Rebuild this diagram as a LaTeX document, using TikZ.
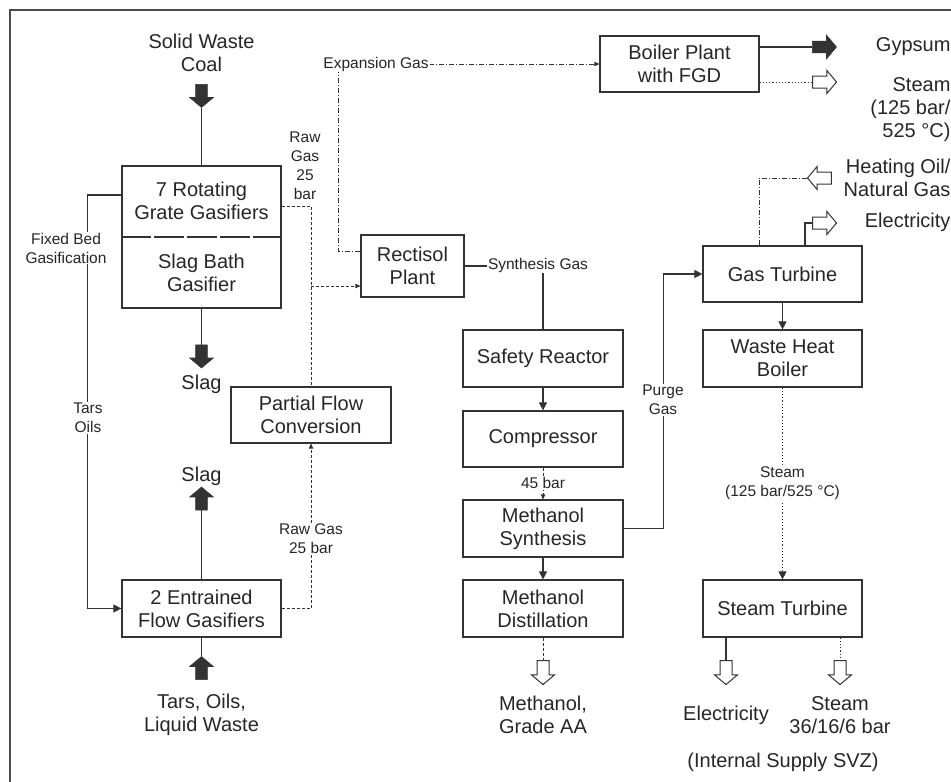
\documentclass[tikz,border=0pt]{standalone}
\usepackage{fontspec}
\setmainfont{Liberation Sans}
\usetikzlibrary{arrows.meta,shapes.arrows}

\begin{document}
\begin{tikzpicture}[x=1pt, y=-1pt, line width=1.1pt, color=black!80,
  every node/.style={font=\fontsize{20}{23}\selectfont, align=center, text=black!85},
  box/.style={draw, line width=1.2pt, minimum width=159pt, minimum height=57pt, inner sep=0pt},
  lbl/.style={font=\fontsize{15.5}{19}\selectfont, fill=white, inner sep=1pt},
  blkarrow/.style={single arrow, fill=black!80, draw=black!80, line width=0.6pt, minimum height=23pt,
    inner xsep=0pt, inner ysep=5.5pt, single arrow head extend=6pt, single arrow tip angle=100},
  openarrow/.style={single arrow, fill=white, draw=black!80, line width=1pt, minimum height=24pt,
    inner xsep=0pt, inner ysep=5.5pt, single arrow head extend=5.5pt, single arrow tip angle=100},
  arr/.style={-{Triangle[length=8pt,width=8pt]}},
  smalltip/.style={-{Triangle[length=5pt,width=4.5pt]}},
  rawgas/.style={line width=0.9pt, dash pattern=on 3pt off 2pt},
  expgas/.style={line width=0.9pt, dash pattern=on 5pt off 2pt on 1pt off 2pt},
  steamln/.style={line width=0.9pt, dash pattern=on 1.2pt off 2pt}]
  \useasboundingbox (0,0) rectangle (951,782);
  \draw[line width=1.5pt, black!70] (10,782) -- (10,10) -- (951,10);

  % gasification
  \node[box, minimum height=142pt] (gasif) at (201.5,237) {};
  \node (rotgrate) at (201.5,200.5) {7 Rotating\\Grate Gasifiers};
  \node (slagbath) at (201.5,272.5) {Slag Bath\\Gasifier};
  \draw[dash pattern=on 30pt off 3pt] (gasif.west) -- (gasif.east);
  \node (coal) at (201.5,53) {Solid Waste\\Coal};
  \node[blkarrow, rotate=-90] (coalin) at (201.5,93.5) {};
  \draw (coalin.tip) -- (gasif.north);
  \node[blkarrow, rotate=-90] (slagout1) at (201.5,354) {};
  \draw (gasif.south) -- (slagout1.tail);
  \node (slag1) at (201.5,384) {Slag};

  \node[box] (entrained) at (201.5,608.5) {2 Entrained\\Flow Gasifiers};
  \node[blkarrow, rotate=90] (slagout2) at (201.5,501) {};
  \draw (entrained.north) -- (slagout2.tail);
  \node (slag2) at (201.5,476) {Slag};
  \node[blkarrow, rotate=90] (tarsin) at (201.5,670.5) {};
  \draw (tarsin.tip) -- (entrained.south);
  \node (tars) at (201.5,715) {Tars, Oils,\\Liquid Waste};

  \draw[arr] ([yshift=42pt]gasif.west) -- ++(-34,0) |- (entrained.west);
  \node[lbl] (fixedbed) at (66,248) {Fixed Bed\\Gasification};
  \node[lbl] (tarsoils) at (88,418) {Tars\\Oils};

  % raw gas
  \node[box, minimum width=160pt, minimum height=56pt] (partial) at (311,415) {Partial Flow\\Conversion};
  \node[box, minimum width=103pt, minimum height=62pt] (rectisol) at (412.5,266) {Rectisol\\Plant};
  \draw[rawgas] ([yshift=31pt]gasif.east) -| (partial.north);
  \node[lbl, fill=none] (rawgas1) at (305,166) {Raw\\Gas\\25\\bar};
  \coordinate (rgjoin) at (311,286);
  \draw[rawgas, smalltip] (rgjoin) -- ([yshift=-20pt]rectisol.west);
  \draw[rawgas, smalltip] (entrained.east) -| (partial.south);
  \node[lbl] (rawgas2) at (311,539) {Raw Gas\\25 bar};

  % boiler plant
  \node[box, minimum height=56pt] (boiler) at (679.5,64) {Boiler Plant\\with FGD};
  \draw[expgas, smalltip] ([yshift=15pt]rectisol.west) -- ++(-22,0) |- (boiler.west);
  \node[lbl] (expansion) at (376,64) {Expansion Gas};
  \node[blkarrow, minimum height=24pt] (gypsout) at (822,47) {};
  \draw ([yshift=17pt]boiler.east) -- (gypsout.tail);
  \node[anchor=east, inner sep=0pt] (gypsum) at (951,47) {Gypsum};
  \node[openarrow] (steamout1) at (822,82) {};
  \draw[steamln] ([yshift=-18pt]boiler.east) -- (steamout1.tail);
  \node[anchor=east, inner sep=0pt, align=right] (steam1) at (951,110) {Steam\\(125 bar/\\525 °C)};

  % methanol
  \node[box, minimum width=160pt] (safety) at (543,358.5) {Safety Reactor};
  \draw (rectisol.east) -| (safety.north);
  \node[lbl] (synthgas) at (538,265) {Synthesis Gas};
  \node[box, minimum width=160pt, minimum height=56pt] (compressor) at (543,439) {Compressor};
  \draw[arr] (safety) -- (compressor);
  \node[box, minimum width=160pt] (methsyn) at (543,528.5) {Methanol\\Synthesis};
  \draw[rawgas, smalltip] (compressor) -- (methsyn);
  \node[lbl] (press) at (543,483) {45 bar};
  \node[box, minimum width=160pt] (methdist) at (543,608.5) {Methanol\\Distillation};
  \draw[arr] (methsyn) -- (methdist);
  \node[openarrow, rotate=-90] (methout) at (543,670) {};
  \draw[rawgas] (methdist) -- (methout.tail);
  \node (methanol) at (543,715) {Methanol,\\Grade AA};

  % power
  \node[box, minimum height=56pt] (gasturb) at (782.5,274) {Gas Turbine};
  \draw[arr] (methsyn.east) -- ++(40,0) |- (gasturb.west);
  \node[lbl] (purge) at (663,400) {Purge\\Gas};
  \node[box] (wasteheat) at (782.5,358.5) {Waste Heat\\Boiler};
  \draw[arr] (gasturb) -- (wasteheat);
  \node[box] (steamturb) at (782.5,608.5) {Steam Turbine};
  \draw[steamln, arr] (wasteheat) -- (steamturb);
  \node[lbl] (steam2) at (782.5,483) {Steam\\(125 bar/525 °C)};
  \node[openarrow, rotate=180] (oilin) at (822,178) {};
  \draw[expgas] (oilin.tip) -| ([xshift=-23.5pt]gasturb.north);
  \node[anchor=east, inner sep=0pt, align=right] (oil) at (951,178) {Heating Oil/\\Natural Gas};
  \node[openarrow] (elecout1) at (822,223) {};
  \draw ([xshift=22.5pt]gasturb.north) |- (elecout1.tail);
  \node[anchor=east, inner sep=0pt] (elec1) at (951,222) {Electricity};
  \node[openarrow, rotate=-90] (elecout2) at (726,670) {};
  \draw ([xshift=-56.5pt]steamturb.south) -- (elecout2.tail);
  \node (elec2) at (726,715) {Electricity};
  \node[openarrow, rotate=-90] (steamout2) at (840,670) {};
  \draw[steamln] ([xshift=57.5pt]steamturb.south) -- (steamout2.tail);
  \node (steam3) at (840,715) {Steam\\36/16/6 bar};
  \node (internal) at (783,762) {(Internal Supply SVZ)};
\end{tikzpicture}
\end{document}
